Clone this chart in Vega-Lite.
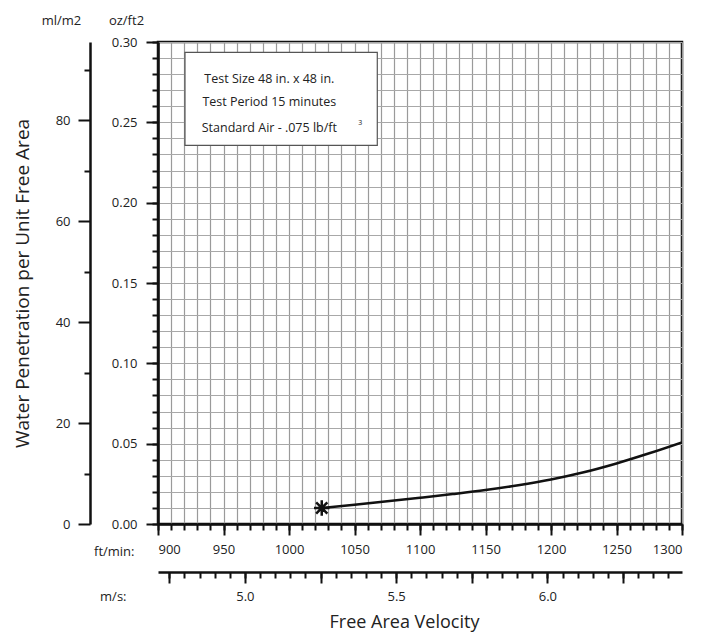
{
  "$schema": "https://vega.github.io/schema/vega-lite/v6.json",
  "width": 524,
  "height": 482,
  "autosize": {"type": "none"},
  "padding": {"left": 158, "top": 42, "right": 27, "bottom": 109},
  "background": "white",
  "config": {
    "font": "Open Sans",
    "view": {"stroke": "#111", "strokeWidth": 2.5},
    "axis": {"labelColor": "#222", "titleColor": "#222", "titleFontWeight": "normal", "labelFontSize": 13, "titleFontSize": 13, "tickColor": "#111", "domainColor": "#111", "tickWidth": 2, "domainWidth": 2.5}
  },
  "datasets": {
    "curve": [
      {"ft": 1025, "oz": 0.0100},
      {"ft": 1050, "oz": 0.0120},
      {"ft": 1075, "oz": 0.0141},
      {"ft": 1100, "oz": 0.0163},
      {"ft": 1125, "oz": 0.0186},
      {"ft": 1150, "oz": 0.0211},
      {"ft": 1175, "oz": 0.0241},
      {"ft": 1200, "oz": 0.0277},
      {"ft": 1225, "oz": 0.0322},
      {"ft": 1250, "oz": 0.0377},
      {"ft": 1275, "oz": 0.0440},
      {"ft": 1300, "oz": 0.0508}
    ],
    "start": [{"ft": 1025, "oz": 0.0100}],
    "extent": [{"ms": 4.7127, "ml": 0}, {"ms": 6.445, "ml": 95.5}],
    "box": [{"ft1": 920.6, "ft2": 1067.4, "oz1": 0.2935, "oz2": 0.2357}],
    "notes": [
      {"ft": 985, "oz": 0.2769, "label": "Test Size 48 in. x 48 in."},
      {"ft": 985, "oz": 0.2626, "label": "Test Period 15 minutes"},
      {"ft": 985, "oz": 0.2464, "label": "Standard Air - .075 lb/ft"}
    ],
    "sup": [{"ft": 1054.4, "oz": 0.2493, "label": "3"}]
  },
  "layer": [
    {
      "data": {"name": "curve"},
      "mark": {"type": "line", "color": "#111", "strokeWidth": 2.5, "interpolate": "monotone", "clip": true},
      "encoding": {
        "x": {"field": "ft", "type": "quantitative", "scale": {"domain": [900, 1300], "nice": false, "zero": false},
          "axis": {"orient": "bottom", "values": [900,910,920,930,940,950,960,970,980,990,1000,1010,1020,1030,1040,1050,1060,1070,1080,1090,1100,1110,1120,1130,1140,1150,1160,1170,1180,1190,1200,1210,1220,1230,1240,1250,1260,1270,1280,1290,1300],
            "labels": false, "domain": false, "tickSize": 6, "grid": true, "gridColor": "#9a9a9a", "gridWidth": 1.2, "title": null}},
        "y": {"field": "oz", "type": "quantitative", "scale": {"domain": [0, 0.3], "nice": false},
          "axis": {"orient": "left", "values": [0,0.01,0.02,0.03,0.04,0.05,0.06,0.07,0.08,0.09,0.1,0.11,0.12,0.13,0.14,0.15,0.16,0.17,0.18,0.19,0.2,0.21,0.22,0.23,0.24,0.25,0.26,0.27,0.28,0.29,0.3],
            "labels": false, "domain": false, "tickSize": 6, "grid": true, "gridColor": "#a8a8a8", "gridWidth": 1.2, "title": null}}
      }
    },
    {
      "data": {"name": "start"},
      "mark": {"type": "point", "shape": "M-1,0L1,0M0,-1L0,1M-0.72,-0.72L0.72,0.72M-0.72,0.72L0.72,-0.72", "filled": false, "stroke": "#111", "strokeWidth": 2.5, "size": 240, "opacity": 1},
      "encoding": {
        "x": {"field": "ft", "type": "quantitative", "scale": {"domain": [900, 1300], "nice": false, "zero": false},
          "axis": {"orient": "bottom", "values": [900,950,1000,1050,1100,1150,1200,1250,1300], "format": "d", "tickSize": 11, "labelPadding": 8, "domain": true, "grid": false,
            "title": "ft/min:", "titleX": -24, "titleY": 31, "titleAlign": "right", "titleBaseline": "alphabetic", "titleAngle": 0}},
        "y": {"field": "oz", "type": "quantitative", "scale": {"domain": [0, 0.3], "nice": false},
          "axis": {"orient": "left", "values": [0,0.05,0.1,0.15,0.2,0.25,0.3], "format": ".2f", "tickSize": 12, "labelPadding": 9, "domain": true, "grid": false,
            "title": "oz/ft2", "titleAngle": 0, "titleX": -32, "titleY": -18, "titleAlign": "center", "titleBaseline": "alphabetic"}}
      }
    },
    {
      "data": {"name": "box"},
      "mark": {"type": "rect", "fill": "white", "stroke": "#555", "strokeWidth": 1.2},
      "encoding": {
        "x": {"field": "ft1", "type": "quantitative", "scale": {"domain": [900, 1300], "nice": false, "zero": false}, "axis": null},
        "x2": {"field": "ft2"},
        "y": {"field": "oz1", "type": "quantitative", "scale": {"domain": [0, 0.3], "nice": false}, "axis": null},
        "y2": {"field": "oz2"}
      }
    },
    {
      "data": {"name": "notes"},
      "mark": {"type": "text", "fontSize": 12.5, "align": "center", "baseline": "middle", "color": "#222"},
      "encoding": {
        "x": {"field": "ft", "type": "quantitative", "scale": {"domain": [900, 1300], "nice": false, "zero": false}, "axis": null},
        "y": {"field": "oz", "type": "quantitative", "scale": {"domain": [0, 0.3], "nice": false}, "axis": null},
        "text": {"field": "label"}
      }
    },
    {
      "data": {"name": "sup"},
      "mark": {"type": "text", "fontSize": 7, "align": "center", "baseline": "middle", "color": "#222"},
      "encoding": {
        "x": {"field": "ft", "type": "quantitative", "scale": {"domain": [900, 1300], "nice": false, "zero": false}, "axis": null},
        "y": {"field": "oz", "type": "quantitative", "scale": {"domain": [0, 0.3], "nice": false}, "axis": null},
        "text": {"field": "label"}
      }
    },
    {
      "data": {"name": "extent"},
      "mark": {"type": "point", "opacity": 0},
      "encoding": {
        "y": {"field": "ml", "type": "quantitative", "scale": {"domain": [0, 95.5], "nice": false},
          "axis": {"orient": "left", "offset": 68, "values": [0,20,40,60,80], "tickSize": 12, "labelPadding": 8, "domain": true, "grid": false,
            "title": "ml/m2", "titleAngle": 0, "titleX": -29, "titleY": -18, "titleAlign": "center", "titleBaseline": "alphabetic"}}
      }
    },
    {
      "data": {"name": "extent"},
      "mark": {"type": "point", "opacity": 0},
      "encoding": {
        "y": {"field": "ml", "type": "quantitative", "scale": {"domain": [0, 95.5], "nice": false},
          "axis": {"orient": "left", "offset": 68, "values": [10,30,50,70,90], "tickSize": 6, "labels": false, "domain": false, "grid": false,
            "title": "Water Penetration per Unit Free Area", "titleFontSize": 19, "titleAngle": -90, "titleX": -68, "titleY": 241, "titleAlign": "center", "titleBaseline": "middle"}}
      }
    },
    {
      "data": {"name": "extent"},
      "mark": {"type": "point", "opacity": 0},
      "encoding": {
        "x": {"field": "ms", "type": "quantitative", "scale": {"domain": [4.7127, 6.445], "nice": false, "zero": false},
          "axis": {"orient": "bottom", "offset": 48, "values": [4.75,5,5.25,5.5,5.75,6,6.25], "labelExpr": "abs(datum.value*2 - round(datum.value*2)) < 0.01 ? format(datum.value, '.1f') : ''",
            "tickSize": 11, "labelPadding": 7, "domain": true, "grid": false,
            "title": "m/s:", "titleX": -32, "titleY": 28, "titleAlign": "right", "titleBaseline": "alphabetic", "titleAngle": 0}}
      }
    },
    {
      "data": {"name": "extent"},
      "mark": {"type": "point", "opacity": 0},
      "encoding": {
        "x": {"field": "ms", "type": "quantitative", "scale": {"domain": [4.7127, 6.445], "nice": false, "zero": false},
          "axis": {"orient": "bottom", "offset": 48, "values": [4.75,4.8,4.85,4.9,4.95,5,5.05,5.1,5.15,5.2,5.25,5.3,5.35,5.4,5.45,5.5,5.55,5.6,5.65,5.7,5.75,5.8,5.85,5.9,5.95,6,6.05,6.1,6.15,6.2,6.25,6.3,6.35,6.4],
            "tickSize": 6, "labels": false, "domain": false, "grid": false,
            "title": "Free Area Velocity", "titleFontSize": 18, "titleX": 246, "titleY": 55, "titleAlign": "center", "titleBaseline": "alphabetic", "titleAngle": 0}}
      }
    }
  ],
  "resolve": {"scale": {"x": "independent", "y": "independent"}}
}
